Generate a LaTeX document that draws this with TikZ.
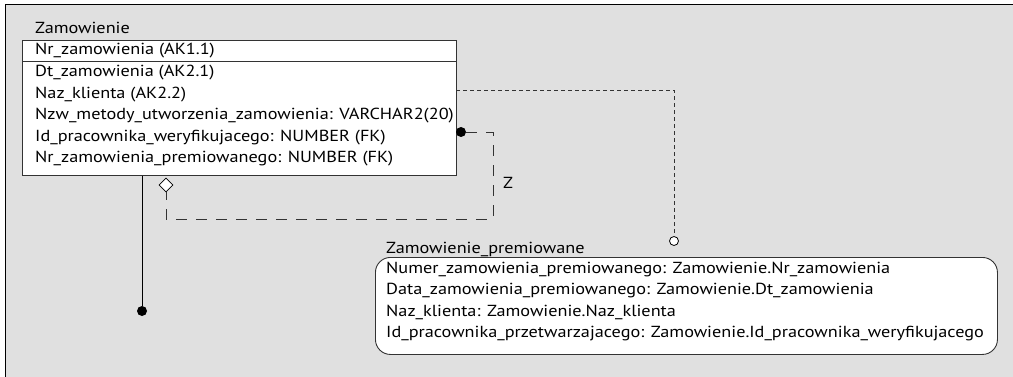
\documentclass[tikz,border=0pt]{standalone}
\usepackage{fontspec}
\setmainfont{PT Sans}[FakeStretch=1.14]
\usetikzlibrary{shapes.geometric}
\definecolor{bggray}{HTML}{E0E0E0}
\definecolor{linegray}{HTML}{333333}
\begin{document}
\begin{tikzpicture}[x=1pt,y=-1pt,
  txt/.style={anchor=base west, inner sep=0pt, font=\fontsize{16}{18}\selectfont},
  tablebox/.style={draw=linegray, line width=0.9pt, fill=white, anchor=north west, inner sep=0pt},
  roundbox/.style={tablebox, rounded corners=15pt},
  dotfill/.style={circle, fill=black, inner sep=0pt, minimum size=10pt},
  dotopen/.style={circle, draw=black, fill=white, line width=0.8pt, inner sep=0pt, minimum size=9pt},
  diamondopen/.style={diamond, draw=black, fill=white, line width=0.8pt, inner sep=0pt, minimum width=14pt, minimum height=14pt},
  longdash/.style={draw=linegray, line width=0.9pt, dash pattern=on 11pt off 9pt},
  shortdash/.style={draw=linegray, line width=0.9pt, dash pattern=on 4pt off 3pt},
  solidline/.style={draw=black, line width=0.9pt}]
\useasboundingbox (0,0) rectangle (1013,377);
\fill[bggray] (5,5) rectangle (1013,377);
\draw[black, line width=1pt] (5,377) -- (5,5) -- (1013,5);

% Zamowienie table
\node[txt] (t1) at (35,34) {Zamowienie};
\node[tablebox, minimum width=434pt, minimum height=135pt] (zam) at (22,40) {};
\draw[linegray, line width=0.9pt] (22,61) -- (456,61);
\node[txt] (a1) at (35,55) {Nr\_zamowienia (AK1.1)};
\node[txt] (a2) at (35,77) {Dt\_zamowienia (AK2.1)};
\node[txt] (a3) at (35,98.5) {Naz\_klienta (AK2.2)};
\node[txt] (a4) at (35,120) {Nzw\_metody\_utworzenia\_zamowienia: VARCHAR2(20)};
\node[txt] (a5) at (35,141.5) {Id\_pracownika\_weryfikujacego: NUMBER (FK)};
\node[txt] (a6) at (35,163) {Nr\_zamowienia\_premiowanego: NUMBER (FK)};

% Zamowienie_premiowane
\node[txt] (t2) at (386,254) {Zamowienie\_premiowane};
\node[roundbox, minimum width=622pt, minimum height=97pt] (prem) at (375,257) {};
\node[txt] (b1) at (386,273) {Numer\_zamowienia\_premiowanego: Zamowienie.Nr\_zamowienia};
\node[txt] (b2) at (386,294.5) {Data\_zamowienia\_premiowanego: Zamowienie.Dt\_zamowienia};
\node[txt] (b3) at (386,316) {Naz\_klienta: Zamowienie.Naz\_klienta};
\node[txt] (b4) at (386,337) {Id\_pracownika\_przetwarzajacego: Zamowienie.Id\_pracownika\_weryfikujacego};

% solid connector with dot
\node[dotfill] (d1) at (142,311) {};
\draw[solidline] (d1 |- zam.south) -- (d1);

% recursive dashed connector
\node[dotfill] (d2) at (461,132) {};
\node[diamondopen] (dm) at (166,185) {};
\coordinate (c1) at (493,132);
\coordinate (c2) at (493,219);
\coordinate (c3) at (166,219);
\draw[longdash] (d2) -- (c1) -- (c2) -- (c3) -- (dm);
\node[txt, anchor=center] (z) at (508,183) {Z};

% dotted connector with open circle
\node[dotopen] (o1) at (674,241) {};
\coordinate (e0) at (456,90.5);
\coordinate (e1) at (674,90.5);
\draw[shortdash] (e0) -- (e1) -- (o1);
\end{tikzpicture}
\end{document}
